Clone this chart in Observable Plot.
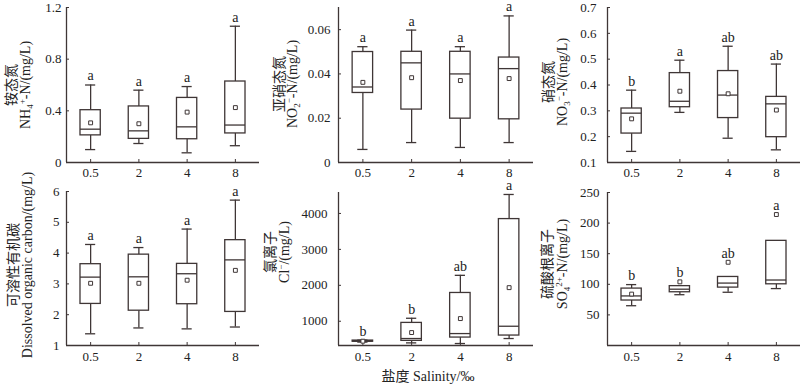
<!DOCTYPE html>
<html><head><meta charset="utf-8">
<script src="https://cdn.jsdelivr.net/npm/d3@7"></script>
<script src="https://cdn.jsdelivr.net/npm/@observablehq/plot@0.6"></script>
<style>
html,body{margin:0;padding:0;background:#fff;}
#wrap{position:relative;width:800px;height:385px;overflow:hidden;font-family:"Liberation Serif","Noto Sans CJK SC",serif;}
#wrap svg{position:absolute;overflow:visible;}
</style></head><body><div id="wrap"></div>
<script>
const salinity = ["0.5","2","4","8"];
// each row: [lower whisker, Q1, median, Q3, upper whisker, mean]
const nh4Stats = [[0.10,0.21,0.258,0.405,0.60,0.307],[0.147,0.183,0.245,0.434,0.56,0.30],[0.075,0.18,0.276,0.50,0.588,0.39],[0.13,0.225,0.29,0.627,1.055,0.425]];
const nh4Letters = ["a","a","a","a"];
const nh4Ticks = [0,0.4,0.8,1.2];
const no2Stats = [[0.0059,0.0314,0.0341,0.0499,0.0523,0.0362],[0.009,0.0239,0.045,0.050,0.0598,0.0383],[0.0068,0.0198,0.040,0.050,0.0523,0.037],[0.009,0.0195,0.0424,0.0474,0.0662,0.0379]];
const no2Letters = ["a","a","a","a"];
const no2Ticks = [0,0.02,0.04,0.06];
const no3Stats = [[0.143,0.212,0.291,0.309,0.380,0.269],[0.294,0.314,0.337,0.446,0.496,0.376],[0.194,0.272,0.361,0.454,0.55,0.366],[0.149,0.198,0.327,0.354,0.481,0.303]];
const no3Letters = ["b","a","ab","ab"];
const no3Ticks = [0.1,0.2,0.3,0.4,0.5,0.6,0.7];
const docStats = [[1.38,2.35,3.22,3.64,4.28,3.02],[1.57,2.13,3.23,3.95,4.18,3.02],[1.54,2.34,3.33,3.65,4.78,3.12],[1.60,2.09,3.78,4.42,5.72,3.44]];
const docLetters = ["a","a","a","a"];
const docTicks = [1,2,3,4,5,6];
const clStats = [[420,430,445,462,475,445],[398,454,519,954,1083,685],[380,546,657,1787,2278,1074],[519,602,861,3843,4528,1935]];
const clLetters = ["b","b","ab","a"];
const clTicks = [1000,2000,3000,4000];
const so4Stats = [[65,73.5,81,93,99.5,84],[83,87,92,97,97,104],[87,94.6,102,112,112,136],[93,100,107,171,171,214]];
const so4Letters = ["b","b","ab","a"];
const so4Ticks = [50,100,150,200,250];

const ink = "#3f3636";
const wrap = document.getElementById("wrap");

function rows(stats, letters) {
  return salinity.map((s, i) => ({i, s, lo: stats[i][0], q1: stats[i][1], med: stats[i][2], q3: stats[i][3], hi: stats[i][4], mean: stats[i][5], letter: letters[i]}));
}

const panels = [
  {stats: nh4Stats, letters: nh4Letters, ticks: nh4Ticks, domain: [0, 1.2], left: 0, top: 0, width: 262, height: 190, ml: 66, mr: 3, mt: 7, mb: 28, gap: 5, xpad: 8},
  {stats: no2Stats, letters: no2Letters, ticks: no2Ticks, domain: [0, 0.07], left: 265, top: 0, width: 270, height: 190, ml: 73, mr: 2, mt: 7, mb: 28, gap: 8, xpad: 8},
  {stats: no3Stats, letters: no3Letters, ticks: no3Ticks, domain: [0.1, 0.7], left: 530, top: 0, width: 270, height: 190, ml: 77, mr: 0, mt: 7, mb: 28, gap: 11, xpad: 8},
  {stats: docStats, letters: docLetters, ticks: docTicks, domain: [1, 6], left: 0, top: 180, width: 262, height: 193, ml: 66, mr: 3, mt: 11, mb: 28, gap: 7, xpad: 9},
  {stats: clStats, letters: clLetters, ticks: clTicks, domain: [325, 4583], left: 265, top: 180, width: 270, height: 193, ml: 73, mr: 2, mt: 12, mb: 28, gap: 11, xpad: 9},
  {stats: so4Stats, letters: so4Letters, ticks: so4Ticks, domain: [0, 250], left: 530, top: 180, width: 270, height: 193, ml: 77, mr: 0, mt: 12, mb: 28, gap: 8, xpad: 9}
];

const bw = 0.21, cw = 0.105, sw = 1.3;
for (const p of panels) {
  const data = rows(p.stats, p.letters);
  const svg = Plot.plot({
    width: p.width, height: p.height,
    marginLeft: p.ml, marginRight: p.mr, marginTop: p.mt, marginBottom: p.mb,
    style: {background: "transparent", fontFamily: "Liberation Serif, serif", fontSize: "13px", color: "#222", overflow: "visible"},
    x: {domain: [-0.5, 3.5], axis: null},
    y: {domain: p.domain, axis: null},
    marks: [
      Plot.ruleY([p.domain[0]], {stroke: ink, strokeWidth: sw}),
      Plot.ruleX([-0.5], {stroke: ink, strokeWidth: sw}),
      Plot.axisY({ticks: p.ticks, tickSize: -3, tickPadding: p.gap + 3, tickFormat: d => String(d), label: null, stroke: ink, fill: "#222"}),
      Plot.axisX({ticks: [0, 1, 2, 3], tickFormat: i => salinity[i], tickSize: -3, tickPadding: p.xpad, label: null, stroke: ink, fill: "#222"}),
      Plot.ruleX(data, {x: "i", y1: "q3", y2: "hi", stroke: ink, strokeWidth: sw}),
      Plot.ruleX(data, {x: "i", y1: "lo", y2: "q1", stroke: ink, strokeWidth: sw}),
      Plot.ruleY(data, {y: "hi", x1: d => d.i - cw, x2: d => d.i + cw, stroke: ink, strokeWidth: sw}),
      Plot.ruleY(data, {y: "lo", x1: d => d.i - cw, x2: d => d.i + cw, stroke: ink, strokeWidth: sw}),
      Plot.rect(data, {x1: d => d.i - bw, x2: d => d.i + bw, y1: "q1", y2: "q3", stroke: ink, strokeWidth: sw, fill: "white"}),
      Plot.ruleY(data, {y: "med", x1: d => d.i - bw, x2: d => d.i + bw, stroke: ink, strokeWidth: sw}),
      Plot.dot(data, {x: "i", y: "mean", symbol: "square", r: 2.2, stroke: ink, strokeWidth: 1, fill: "white"}),
      Plot.text(data, {x: "i", y: d => Math.max(d.hi, d.mean), text: "letter", dy: -9, fontSize: 14, fill: "#222"})
    ]
  });
  svg.style.left = p.left + "px";
  svg.style.top = p.top + "px";
  wrap.appendChild(svg);
}

// axis titles
const yLabels = [
  {zh: "铵态氮", en: [["NH", ""], ["4", "sub"], ["+", "sup"], ["-N/(mg/L)", ""]], xz: 11, xe: 25, y: 85},
  {zh: "亚硝态氮", en: [["NO", ""], ["2", "sub"], ["−", "sup"], ["-N/(mg/L)", ""]], xz: 279, xe: 292, y: 84},
  {zh: "硝态氮", en: [["NO", ""], ["3", "sub"], ["−", "sup"], ["-N/(mg/L)", ""]], xz: 548, xe: 562, y: 82},
  {zh: "可溶性有机碳", en: [["Dissolved organic carbon/(mg/L)", ""]], xz: 13, xe: 27, y: 265},
  {zh: "氯离子", en: [["Cl", ""], ["−", "sup"], ["/(mg/L)", ""]], xz: 270, xe: 284, y: 252},
  {zh: "硫酸根离子", en: [["SO", ""], ["4", "sub"], ["2+", "sup"], ["-N/(mg/L)", ""]], xz: 547, xe: 562, y: 264}
];
const ov = d3.select(wrap).append("svg").attr("width", 800).attr("height", 385)
  .style("left", "0px").style("top", "0px")
  .style("font-family", "'Liberation Serif','Noto Sans CJK SC',serif").style("fill", "#222");
for (const l of yLabels) {
  // rotated -90: local baseline maps to screen x; glyphs extend to the left of it
  ov.append("text").attr("transform", `translate(${l.xz + 5.3},${l.y}) rotate(-90)`)
    .attr("text-anchor", "middle").attr("font-size", 14).text(l.zh);
  const t = ov.append("text").attr("transform", `translate(${l.xe + 4.6},${l.y}) rotate(-90)`)
    .attr("text-anchor", "middle").attr("font-size", 14);
  let shift = 0;
  for (const [s, kind] of l.en) {
    const target = kind === "sub" ? 3 : kind === "sup" ? -5 : 0;
    t.append("tspan").attr("dy", target - shift).attr("font-size", kind ? 9 : 14).text(s);
    shift = target;
  }
}
ov.append("text").attr("x", 428).attr("y", 376).attr("text-anchor", "middle")
  .attr("dominant-baseline", "central").attr("font-size", 14).text("盐度 Salinity/‰");
</script></body></html>
